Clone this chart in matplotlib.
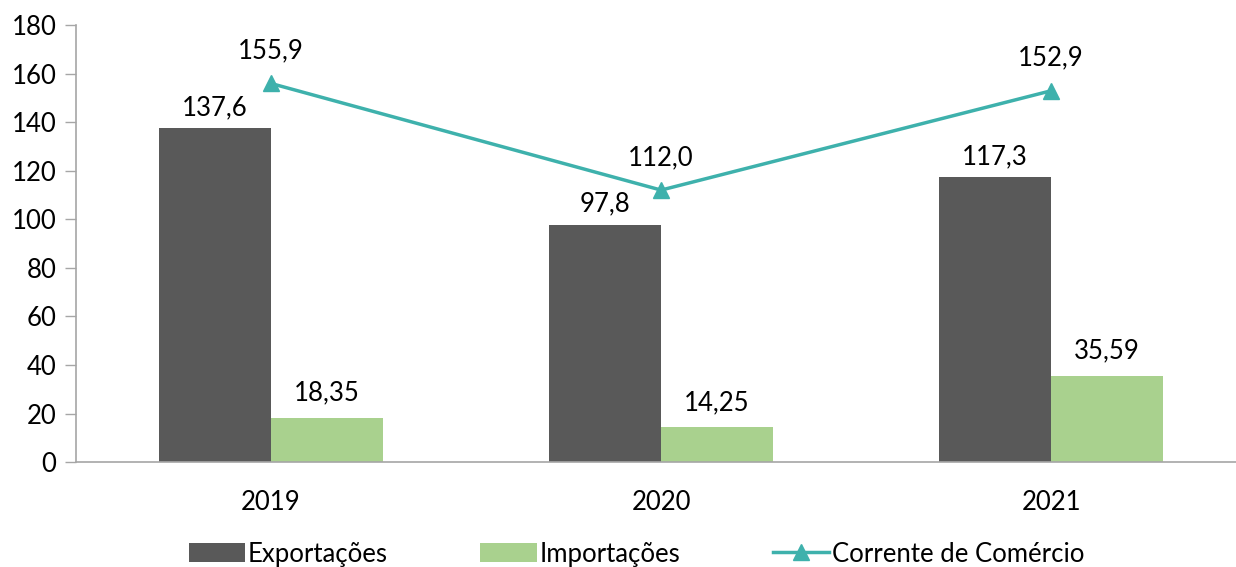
import numpy as np
import matplotlib.pyplot as plt

plt.rcParams['font.family'] = ['Lato', 'DejaVu Sans']

# dados
anos = ['2019', '2020', '2021']
exportacoes = [137.6, 97.8, 117.3]
importacoes = [18.35, 14.25, 35.59]
corrente = [155.9, 112.0, 152.9]
rot_exp = ['137,6', '97,8', '117,3']
rot_imp = ['18,35', '14,25', '35,59']
rot_cor = ['155,9', '112,0', '152,9']

cor_exp = '#595959'
cor_imp = '#A9D18E'
cor_linha = '#3EB1AC'
cor_eixo = '#A6A6A6'

fig = plt.figure(figsize=(12.36, 5.67), dpi=100)
ax = fig.add_axes([0.0615, 0.185, 0.9385, 0.771])

x = np.arange(len(anos))
w = 0.287

b1 = ax.bar(x - w / 2, exportacoes, w, color=cor_exp, label='Exportações')
b2 = ax.bar(x + w / 2, importacoes, w, color=cor_imp, label='Importações')
l1, = ax.plot(x, corrente, color=cor_linha, linewidth=2.5, marker='^',
              markersize=12, label='Corrente de Comércio')

fs = 18.5
for i in range(len(anos)):
    ax.annotate(rot_exp[i], (x[i] - w / 2, exportacoes[i]), xytext=(0, 8),
                textcoords='offset pixels', ha='center', va='bottom', fontsize=fs)
    ax.annotate(rot_imp[i], (x[i] + w / 2, importacoes[i]), xytext=(0, 12),
                textcoords='offset pixels', ha='center', va='bottom', fontsize=fs)
    ax.annotate(rot_cor[i], (x[i], corrente[i]), xytext=(0, 20),
                textcoords='offset pixels', ha='center', va='bottom', fontsize=fs)

ax.set_ylim(0, 180)
ax.set_yticks(range(0, 181, 20))
ax.set_xlim(-0.5, 2.474)
ax.set_xticks(x)
ax.set_xticklabels(anos)
ax.tick_params(axis='x', length=0, pad=20, labelsize=fs)
ax.tick_params(axis='y', length=8, width=1, color=cor_eixo, labelsize=fs, pad=6)

for s in ['top', 'right']:
    ax.spines[s].set_visible(False)
ax.spines['left'].set_color(cor_eixo)
ax.spines['bottom'].set_color(cor_eixo)
ax.spines['left'].set_linewidth(1.2)
ax.spines['bottom'].set_linewidth(1.2)

fig.legend([b1, b2, l1], ['Exportações', 'Importações', 'Corrente de Comércio'],
           loc='lower center', bbox_to_anchor=(0.515, -0.04), ncol=3, frameon=False,
           fontsize=fs, handlelength=2.2, handleheight=0.8, handletextpad=0.1,
           columnspacing=3.6)

fig.savefig('out.png', dpi=100)
